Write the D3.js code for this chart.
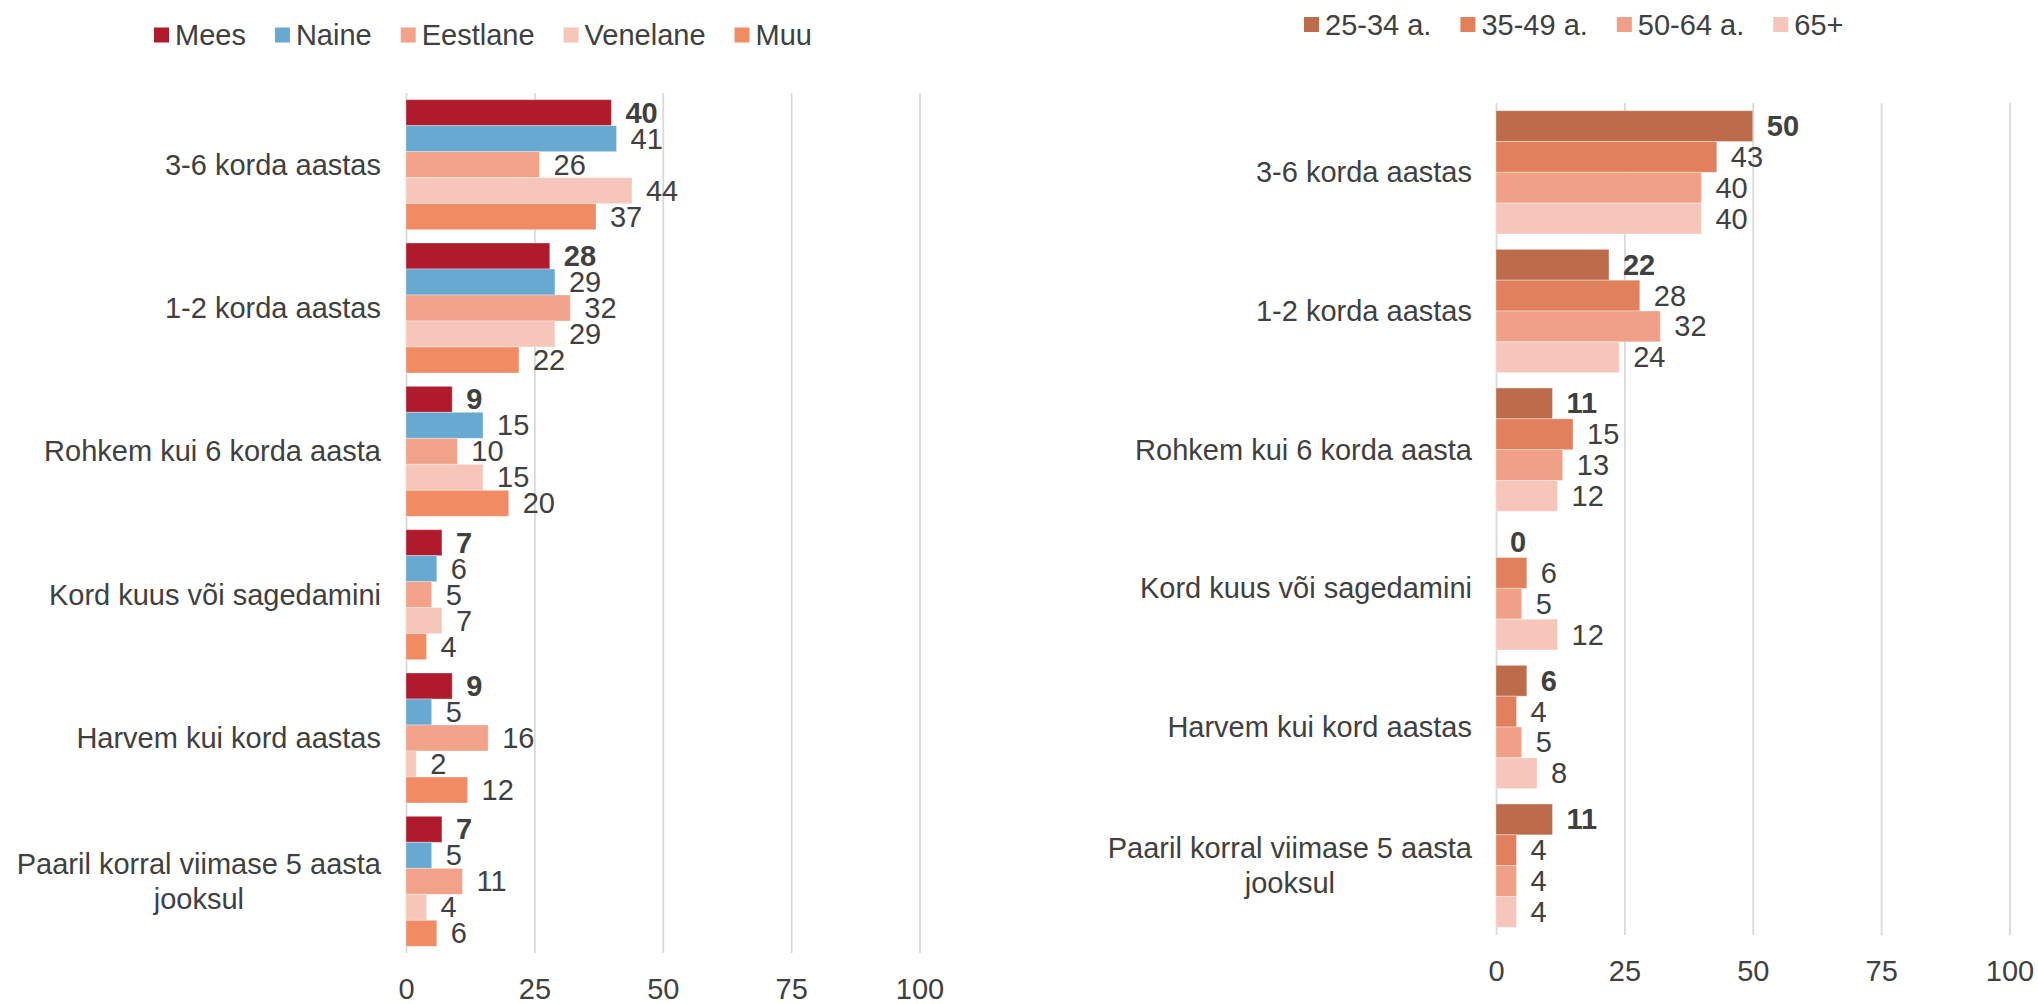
<!DOCTYPE html>
<html>
<head>
<meta charset="utf-8">
<script src="https://cdn.jsdelivr.net/npm/d3@7"></script>
<style>
  html, body { margin: 0; padding: 0; background: #fff; }
  svg { display: block; }
  text { font-family: "Liberation Sans", Arial, sans-serif; fill: #404040; }
</style>
</head>
<body>
<svg id="chart" width="2038" height="1004"></svg>
<script>
// ---------- DATA ----------
const categories = [
  "3-6 korda aastas",
  "1-2 korda aastas",
  "Rohkem kui 6 korda aasta",
  "Kord kuus või sagedamini",
  "Harvem kui kord aastas",
  "Paaril korral viimase 5 aasta\njooksul"
];

// Left panel series
const leftSeriesNames = ["Mees", "Naine", "Eestlane", "Venelane", "Muu"];
const mees     = [40, 28, 9, 7, 9, 7];
const naine    = [41, 29, 15, 6, 5, 5];
const eestlane = [26, 32, 10, 5, 16, 11];
const venelane = [44, 29, 15, 7, 2, 4];
const muu      = [37, 22, 20, 4, 12, 6];
const leftColors = ["#AF1A2D", "#67A9D0", "#F1A289", "#F6C6BA", "#F08B63"];

// Right panel series
const rightSeriesNames = ["25-34 a.", "35-49 a.", "50-64 a.", "65+"];
const age2534 = [50, 22, 11, 0, 6, 11];
const age3549 = [43, 28, 15, 6, 4, 4];
const age5064 = [40, 32, 13, 5, 5, 4];
const age65   = [40, 24, 12, 12, 8, 4];
const rightColors = ["#BC6B4B", "#E0805C", "#F1A088", "#F6C6BA"];

const tickValues = [0, 25, 50, 75, 100];

// ---------- DRAW ----------
const svg = d3.select("#chart");
const FONT = 29;

function drawLegend(names, colors, startX, cy) {
  const g = svg.append("g");
  let x = startX;
  names.forEach((n, i) => {
    g.append("rect").attr("x", x).attr("y", cy - 7.5).attr("width", 15).attr("height", 15)
      .attr("fill", colors[i]);
    const t = g.append("text").attr("x", x + 21).attr("y", cy)
      .attr("dominant-baseline", "central").attr("font-size", FONT).text(n);
    x = x + 21 + t.node().getComputedTextLength() + 29;
  });
}

function drawPanel(opts) {
  const { series, colors, x0, x100, top, bottom, labelRight, padInner } = opts;
  const g = svg.append("g");
  const x = d3.scaleLinear().domain([0, 100]).range([x0, x100]);
  const y = d3.scaleBand().domain(categories).range([top, bottom])
    .paddingInner(padInner).paddingOuter(padInner / 2);
  const ySub = d3.scaleBand().domain(d3.range(series.length)).range([0, y.bandwidth()]);

  // gridlines via axis
  const grid = g.append("g").attr("transform", `translate(0,${top})`)
    .call(d3.axisBottom(x).tickValues(tickValues).tickSize(bottom - top).tickFormat(""));
  grid.select(".domain").remove();
  grid.selectAll("line").attr("stroke", "#D9D9D9").attr("stroke-width", 1.8);

  // tick labels via axis
  const ax = g.append("g").attr("transform", `translate(0,${bottom})`)
    .call(d3.axisBottom(x).tickValues(tickValues).tickSize(0).tickPadding(36));
  ax.select(".domain").remove();
  ax.selectAll("text").attr("font-size", FONT).attr("fill", "#404040")
    .attr("font-family", '"Liberation Sans", Arial, sans-serif')
    .attr("dy", null).attr("y", 36).attr("dominant-baseline", "central");

  // bars
  series.forEach((vals, si) => {
    const sg = g.append("g");
    sg.selectAll("rect").data(vals).join("rect")
      .attr("x", x(0))
      .attr("y", (d, i) => y(categories[i]) + ySub(si))
      .attr("width", d => x(d) - x(0))
      .attr("height", ySub.bandwidth())
      .attr("fill", colors[si])
      .attr("stroke", "#fff").attr("stroke-opacity", 0.35).attr("stroke-width", 1);
    sg.selectAll("text").data(vals).join("text")
      .attr("x", d => x(d) + 14)
      .attr("y", (d, i) => y(categories[i]) + ySub(si) + ySub.bandwidth() / 2)
      .attr("dominant-baseline", "central")
      .attr("font-size", FONT)
      .attr("font-weight", si === 0 ? "bold" : "normal")
      .text(d => d);
  });

  // category labels
  categories.forEach(c => {
    const lines = c.split("\n");
    const cy = y(c) + y.bandwidth() / 2;
    const lh = 35;
    const tg = g.append("g");
    const texts = lines.map((l, li) => tg.append("text")
      .attr("y", cy + (li - (lines.length - 1) / 2) * lh)
      .attr("dominant-baseline", "central")
      .attr("font-size", FONT)
      .attr("text-anchor", "middle")
      .text(l));
    const maxW = d3.max(texts, t => t.node().getComputedTextLength());
    texts.forEach(t => t.attr("x", labelRight - maxW / 2));
  });
}

drawLegend(leftSeriesNames, leftColors, 154, 35);
drawLegend(rightSeriesNames, rightColors, 1304, 24.5);

drawPanel({
  series: [mees, naine, eestlane, venelane, muu],
  colors: leftColors,
  x0: 406, x100: 919.5, top: 93, bottom: 953,
  labelRight: 381, padInner: 0.093
});

drawPanel({
  series: [age2534, age3549, age5064, age65],
  colors: rightColors,
  x0: 1496, x100: 2009.5, top: 103, bottom: 935,
  labelRight: 1472, padInner: 0.111
});
</script>
</body>
</html>
